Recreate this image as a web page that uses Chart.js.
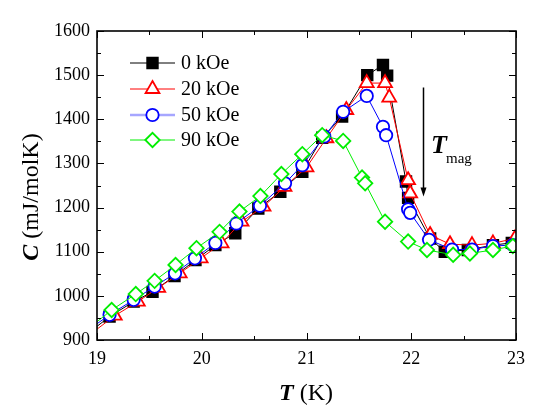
<!DOCTYPE html>
<html>
<head>
<meta charset="utf-8">
<script src="https://cdn.jsdelivr.net/npm/chart.js@4.4.0/dist/chart.umd.min.js"></script>
<style>
  html, body { margin: 0; padding: 0; background: #fff; }
  #wrap { width: 545px; height: 417px; }
</style>
</head>
<body>
<div id="wrap"><canvas id="heatCap"></canvas></div>
<script>
// heat capacity C (mJ/molK) vs T (K) for four fields
var labels = ['0 kOe', '20 kOe', '50 kOe', '90 kOe'];

var t0  = [18.93, 19.12, 19.35, 19.53, 19.74, 19.94, 20.13, 20.32, 20.54, 20.75, 20.96, 21.15, 21.34, 21.58, 21.73, 21.77, 21.95, 21.97, 22.18, 22.32, 22.54, 22.78, 22.96];
var c0  = [918, 953, 987, 1009, 1045, 1081, 1115, 1142, 1198, 1236, 1281, 1358, 1406, 1500, 1523, 1499, 1259, 1222, 1130, 1100, 1104, 1115, 1120];

var t20 = [18.93, 19.17, 19.39, 19.585, 19.79, 19.99, 20.19, 20.38, 20.59, 20.79, 21.0, 21.19, 21.38, 21.575, 21.75, 21.79, 21.97, 21.99, 22.18, 22.37, 22.58, 22.78, 22.99];
var c20 = [912, 955, 987, 1018, 1051, 1085, 1119, 1168, 1202, 1247, 1291, 1357, 1421, 1482, 1482, 1449, 1262, 1232, 1138, 1117, 1115, 1119, 1130];

var t50 = [18.93, 19.12, 19.35, 19.55, 19.745, 19.935, 20.13, 20.33, 20.556, 20.795, 20.96, 21.17, 21.35, 21.575, 21.73, 21.76, 21.97, 21.99, 22.17, 22.39, 22.58, 22.78, 22.97];
var c50 = [925, 957, 991, 1021, 1051, 1085, 1120, 1164, 1204, 1255, 1296, 1361, 1417, 1453, 1383, 1364, 1196, 1188, 1127, 1105, 1105, 1113, 1115];

var t90 = [18.93, 19.14, 19.37, 19.55, 19.75, 19.95, 20.17, 20.36, 20.56, 20.76, 20.96, 21.15, 21.35, 21.53, 21.56, 21.75, 21.97, 22.15, 22.40, 22.56, 22.78, 22.97];
var c90 = [928, 968, 1004, 1034, 1070, 1108, 1145, 1191, 1226, 1276, 1321, 1364, 1351, 1268, 1255, 1168, 1123, 1104, 1093, 1096, 1104, 1113];

var serif = '"Liberation Serif", "Times New Roman", serif';

function toPoints(ts, cs) {
    return ts.map(function(t, i) { return { x: t, y: cs[i] }; });
}

function series(label, ts, cs, color, style, radius, fill, order) {
    return {
        label: label,
        data: toPoints(ts, cs),
        borderColor: color,
        borderWidth: 1,
        pointStyle: style,
        pointRadius: radius,
        pointBorderWidth: 1.8,
        pointBorderColor: color,
        pointBackgroundColor: fill,
        tension: 0,
        clip: 0,
        order: order
    };
}

var datasets = [
    series(labels[0], t0, c0, '#000000', 'rect', 7.5, '#000000', 4),
    series(labels[1], t20, c20, '#ff0000', 'triangle', 8, '#ffffff', 3),
    series(labels[2], t50, c50, '#0000ff', 'circle', 6.2, '#ffffff', 2),
    series(labels[3], t90, c90, '#00ee00', 'rectRot', 7.2, '#ffffff', 1)
];

/* frame, inward ticks, legend, axis titles and the T_mag arrow */
var decorPlugin = {
    id: 'decor',
    afterDraw: function(chart) {
        var ctx = chart.ctx, a = chart.chartArea;
        var xs = chart.scales.x, ys = chart.scales.y;
        ctx.save();
        ctx.strokeStyle = '#000';
        ctx.lineWidth = 1;
        var v, p, len;
        for (v = 19; v <= 23.001; v += 0.5) {
            p = Math.round(xs.getPixelForValue(v)) + 0.5;
            len = Math.abs(v - Math.round(v)) < 1e-6 ? 7 : 4;
            ctx.beginPath();
            ctx.moveTo(p, a.bottom); ctx.lineTo(p, a.bottom - len);
            ctx.moveTo(p, a.top); ctx.lineTo(p, a.top + len);
            ctx.stroke();
        }
        for (v = 900; v <= 1600; v += 50) {
            p = Math.round(ys.getPixelForValue(v)) + 0.5;
            len = v % 100 === 0 ? 7 : 4;
            ctx.beginPath();
            ctx.moveTo(a.left, p); ctx.lineTo(a.left + len, p);
            ctx.moveTo(a.right, p); ctx.lineTo(a.right - len, p);
            ctx.stroke();
        }
        ctx.lineWidth = 1.6;
        ctx.strokeRect(a.left, a.top, a.right - a.left, a.bottom - a.top);

        // legend
        var rows = [63, 89, 115, 140];
        chart.data.datasets.forEach(function(ds, i) {
            var y = rows[i];
            ctx.beginPath();
            if (i === 2) {
                ctx.strokeStyle = 'rgba(0,0,255,0.35)';
                ctx.lineWidth = 2.5;
            } else {
                ctx.strokeStyle = ds.borderColor;
                ctx.lineWidth = 1;
            }
            ctx.moveTo(130, y); ctx.lineTo(175, y);
            ctx.stroke();
            ctx.strokeStyle = ds.pointBorderColor;
            ctx.fillStyle = ds.pointBackgroundColor;
            ctx.lineWidth = ds.pointBorderWidth;
            Chart.helpers.drawPoint(ctx, {
                pointStyle: ds.pointStyle,
                radius: ds.pointRadius,
                borderWidth: ds.pointBorderWidth,
                rotation: 0
            }, 152.5, y);
            ctx.fillStyle = '#000';
            ctx.font = '20px ' + serif;
            ctx.textAlign = 'left';
            ctx.textBaseline = 'middle';
            ctx.fillText(ds.label, 181, y + 1);
        });

        // T_mag arrow
        var ax = Math.round(xs.getPixelForValue(22.115)) + 0.5;
        var ay0 = ys.getPixelForValue(1472), ay1 = ys.getPixelForValue(1225);
        ctx.strokeStyle = '#000';
        ctx.fillStyle = '#000';
        ctx.lineWidth = 1.5;
        ctx.beginPath();
        ctx.moveTo(ax, ay0); ctx.lineTo(ax, ay1 - 6);
        ctx.stroke();
        ctx.beginPath();
        ctx.moveTo(ax, ay1); ctx.lineTo(ax - 3, ay1 - 9); ctx.lineTo(ax + 3, ay1 - 9);
        ctx.closePath();
        ctx.fill();

        ctx.textAlign = 'left';
        ctx.textBaseline = 'alphabetic';
        ctx.font = 'italic bold 26px ' + serif;
        ctx.fillText('T', 431, 153);
        ctx.font = '15px ' + serif;
        ctx.fillText('mag', 446, 163);

        // axis titles
        ctx.font = 'italic bold 24px ' + serif;
        var wT = ctx.measureText('T').width;
        ctx.font = '24px ' + serif;
        var wK = ctx.measureText(' (K)').width;
        var sx = 306 - (wT + wK) / 2;
        ctx.font = 'italic bold 24px ' + serif;
        ctx.fillText('T', sx, 400);
        ctx.font = '24px ' + serif;
        ctx.fillText(' (K)', sx + wT, 400);

        ctx.translate(38, 197);
        ctx.rotate(-Math.PI / 2);
        ctx.font = 'italic bold 24px ' + serif;
        var wC = ctx.measureText('C').width;
        ctx.font = '24px ' + serif;
        var wU = ctx.measureText(' (mJ/molK)').width;
        var sy = -(wC + wU) / 2;
        ctx.font = 'italic bold 24px ' + serif;
        ctx.fillText('C', sy, 0);
        ctx.font = '24px ' + serif;
        ctx.fillText(' (mJ/molK)', sy + wC, 0);
        ctx.restore();
    }
};

var ctx = document.getElementById('heatCap').getContext('2d');
var heatChart = new Chart(ctx, {
    type: 'line',
    data: { datasets: datasets },
    options: {
        responsive: true,
        maintainAspectRatio: false,
        animation: false,
        layout: { padding: { top: 31, right: 29, bottom: 0, left: 0 } },
        plugins: {
            legend: { display: false },
            tooltip: { enabled: false }
        },
        scales: {
            x: {
                type: 'linear',
                min: 19,
                max: 23,
                grid: { display: false, drawTicks: false },
                border: { display: false },
                ticks: {
                    stepSize: 1,
                    padding: 8,
                    color: '#000',
                    font: { family: serif, size: 18 },
                    callback: function(v) { return String(v); }
                },
                afterFit: function(s) { s.height = 77; }
            },
            y: {
                min: 900,
                max: 1600,
                grid: { display: false, drawTicks: false },
                border: { display: false },
                ticks: {
                    stepSize: 100,
                    padding: 7,
                    color: '#000',
                    font: { family: serif, size: 18 },
                    callback: function(v) { return String(v); }
                },
                afterFit: function(s) { s.width = 97; }
            }
        }
    },
    plugins: [decorPlugin]
});
</script>
</body>
</html>
